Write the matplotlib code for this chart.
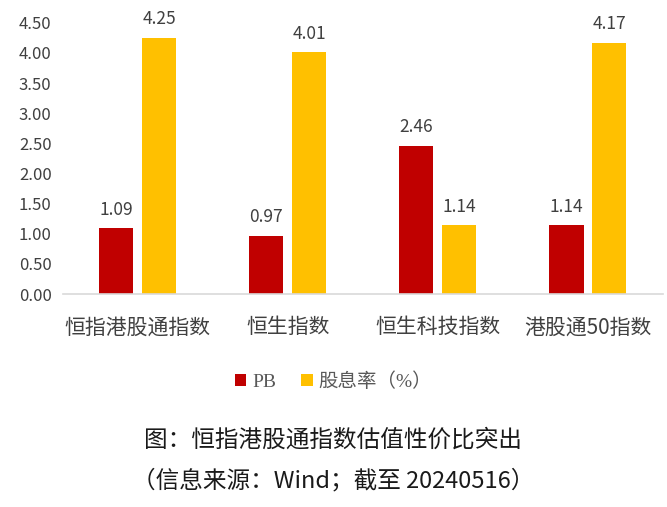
import matplotlib
matplotlib.use("Agg")
import matplotlib.pyplot as plt
import numpy as np

plt.rcParams['font.family'] = ['Noto Sans CJK SC', 'DejaVu Sans']

categories = ["恒指港股通指数", "恒生指数", "恒生科技指数", "港股通50指数"]
pb = [1.09, 0.97, 2.46, 1.14]
dividend = [4.25, 4.01, 1.14, 4.17]
yticks = [0.0, 0.5, 1.0, 1.5, 2.0, 2.5, 3.0, 3.5, 4.0, 4.5]

red = "#C00000"
gold = "#FFC000"
txt = "#404040"

fig = plt.figure(figsize=(6.67, 5.07), dpi=100)
ax = fig.add_axes([0.094, 0.42, 0.90, 0.535])

x = np.arange(len(categories))
w = 0.227
off = 0.143
b1 = ax.bar(x - off, pb, w, color=red, label="PB")
b2 = ax.bar(x + off, dividend, w, color=gold, label="股息率（%）")

for bars, vals in ((b1, pb), (b2, dividend)):
    for r, v in zip(bars, vals):
        ax.annotate(f"{v:.2f}", (r.get_x() + r.get_width() / 2, v),
                    xytext=(0, 7), textcoords="offset points",
                    ha="center", va="bottom", fontsize=12.5, color=txt)

ax.set_xlim(-0.5, 3.5)
ax.set_ylim(0, 4.5)
ax.set_yticks(yticks)
ax.set_yticklabels([f"{t:.2f}" for t in yticks], fontsize=12, color=txt)
ax.set_xticks(x)
ax.set_xticklabels(categories, fontsize=15, color=txt)
ax.tick_params(axis="both", length=0)
ax.tick_params(axis="x", pad=16)
ax.tick_params(axis="y", pad=8)
for s in ("top", "right", "left"):
    ax.spines[s].set_visible(False)
ax.spines["bottom"].set_color("#D9D9D9")
ax.spines["bottom"].set_linewidth(1.2)

leg = fig.legend(handles=[b1, b2], loc="center", bbox_to_anchor=(0.5, 0.248),
                 ncol=2, frameon=False, handlelength=0.6, handleheight=0.6,
                 handletextpad=0.3, columnspacing=1.3,
                 prop={'family': ['Liberation Serif', 'Noto Sans CJK SC'], 'size': 14})
for t in leg.get_texts():
    t.set_color("#595959")

fig.text(0.5, 0.132, "图：恒指港股通指数估值性价比突出", ha="center", va="center",
         fontsize=17, color="#1a1a1a")
fig.text(0.5, 0.053, "（信息来源：Wind；截至 20240516）", ha="center", va="center",
         fontsize=17, color="#1a1a1a")

fig.savefig("out.png", dpi=100)
